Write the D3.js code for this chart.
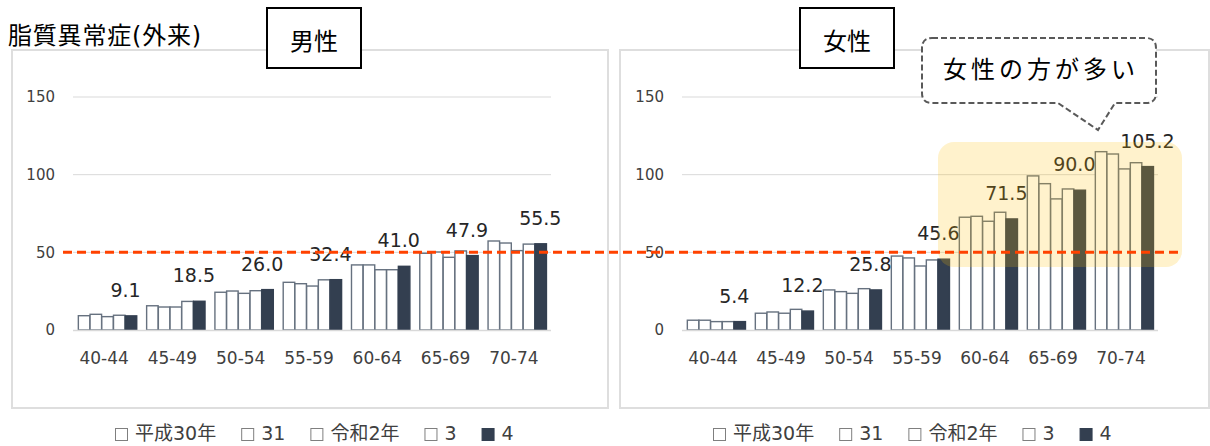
<!DOCTYPE html>
<html>
<head>
<meta charset="utf-8">
<script src="https://cdn.jsdelivr.net/npm/d3@7/dist/d3.min.js"></script>
<style>
  html, body { margin: 0; padding: 0; background: #fff; }
  svg { display: block; }
  text { font-family: "DejaVu Sans", "Noto Sans CJK JP", sans-serif; }
</style>
</head>
<body>
<svg id="chart" width="1210" height="446"></svg>
<script>
// Age bands on the x axis
const ageGroups = ["40-44", "45-49", "50-54", "55-59", "60-64", "65-69", "70-74"];
// Fiscal years (legend order)
const years = ["平成30年", "31", "令和2年", "3", "4"];
const yTicks = [0, 50, 100, 150];
const referenceValue = 50;

// Men, one array per fiscal year
const maleH30 = [9.2, 15.6, 24.3, 30.7, 41.9, 49.4, 57.3];
const maleH31 = [10.1, 14.8, 25.1, 29.8, 41.9, 50.2, 56.0];
const maleR2  = [8.6, 14.8, 23.6, 28.3, 38.8, 46.8, 51.1];
const maleR3  = [9.5, 18.4, 25.3, 32.3, 38.8, 50.9, 55.3];
const maleR4  = [9.1, 18.5, 26.0, 32.4, 41.0, 47.9, 55.5];

// Women, one array per fiscal year
const femaleH30 = [6.3, 10.8, 25.8, 47.6, 72.6, 99.2, 114.8];
const femaleH31 = [6.3, 11.6, 24.7, 46.4, 73.2, 94.2, 113.3];
const femaleR2  = [5.4, 10.8, 23.6, 41.2, 70.0, 84.4, 103.7];
const femaleR3  = [5.4, 13.3, 26.6, 45.1, 75.8, 90.8, 107.7];
const femaleR4  = [5.4, 12.2, 25.8, 45.6, 71.5, 90.0, 105.2];

const maleSeries = [maleH30, maleH31, maleR2, maleR3, maleR4];
const femaleSeries = [femaleH30, femaleH31, femaleR2, femaleR3, femaleR4];

const svg = d3.select("#chart");
const DARK = "#333f50";
const OUTLINE = "#66717f";

const y = d3.scaleLinear().domain([0, 150]).range([330, 97]);

function drawPanel(opts) {
  const { px, pw, x0, x1, series, legendX } = opts;
  const g = svg.append("g");

  // panel frame
  g.append("rect")
    .attr("x", px).attr("y", 50).attr("width", pw).attr("height", 358)
    .attr("fill", "#fff").attr("stroke", "#dedede").attr("stroke-width", 2);

  const x = d3.scaleBand().domain(ageGroups).range([x0, x1]).paddingInner(0.142).paddingOuter(0.071);
  const xs = d3.scaleBand().domain(d3.range(years.length)).range([0, x.bandwidth()]);

  // horizontal gridlines
  g.append("g").selectAll("line").data(yTicks.filter(d => d > 0)).join("line")
    .attr("x1", x0).attr("x2", x1)
    .attr("y1", d => y(d)).attr("y2", d => y(d))
    .attr("stroke", "#d9d9d9").attr("stroke-width", 1);

  // y tick labels
  g.append("g").selectAll("text").data(yTicks).join("text")
    .attr("x", x0 - 18).attr("y", d => y(d)).attr("dy", "0.36em")
    .attr("text-anchor", "end").attr("font-size", 15).attr("fill", "#404040")
    .text(d => d);

  // bars
  const groups = g.append("g").selectAll("g").data(ageGroups).join("g")
    .attr("transform", d => `translate(${x(d)},0)`);
  groups.selectAll("rect")
    .data((d, gi) => series.map((s, si) => ({ si, v: s[gi] })))
    .join("rect")
    .attr("x", d => xs(d.si) + 0.5)
    .attr("width", xs.bandwidth() - 0.2)
    .attr("y", d => y(d.v))
    .attr("height", d => y(0) - y(d.v))
    .attr("fill", d => d.si === years.length - 1 ? DARK : "#fff")
    .attr("stroke", d => d.si === years.length - 1 ? DARK : OUTLINE)
    .attr("stroke-width", 1.4);

  // baseline
  g.append("line").attr("x1", x0).attr("x2", x1).attr("y1", y(0) + 0.5).attr("y2", y(0) + 0.5)
    .attr("stroke", "#d9d9d9").attr("stroke-width", 1.5);

  // value labels for the latest year
  const latest = series[series.length - 1];
  g.append("g").selectAll("text").data(ageGroups).join("text")
    .attr("x", (d, i) => x(d) + xs(years.length - 1) + xs.bandwidth() / 2 - (i === ageGroups.length - 1 ? 0 : 5))
    .attr("y", (d, i) => y(latest[i]) - 19)
    .attr("text-anchor", "middle").attr("font-size", 19).attr("fill", "#262626")
    .text((d, i) => latest[i].toFixed(1));

  // x axis labels
  g.append("g").selectAll("text").data(ageGroups).join("text")
    .attr("x", d => x(d) + x.bandwidth() / 2 - 3).attr("y", 364)
    .attr("text-anchor", "middle").attr("font-size", 17).attr("fill", "#404040")
    .text(d => d);

  // legend
  const lg = g.append("g");
  let cx = legendX;
  years.forEach((yr, i) => {
    lg.append("rect").attr("x", cx + 0.5).attr("y", 428.5).attr("width", 12).attr("height", 12)
      .attr("fill", i === years.length - 1 ? DARK : "#fff")
      .attr("stroke", i === years.length - 1 ? DARK : "#7f7f7f").attr("stroke-width", 1);
    const t = lg.append("text").attr("x", cx + 20).attr("y", 440)
      .attr("font-size", 19).attr("fill", "#404040").text(yr);
    cx += 20 + t.node().getComputedTextLength() + 25;
  });

  return { x, xs };
}

drawPanel({ px: 12, pw: 596, x0: 73, x1: 551, series: maleSeries, legendX: 115 });
drawPanel({ px: 620, pw: 589, x0: 682, x1: 1158, series: femaleSeries, legendX: 713 });

// translucent highlight over women aged 60 and over
svg.append("rect")
  .attr("x", 938).attr("y", 142).attr("width", 244).attr("height", 125)
  .attr("rx", 16).attr("ry", 16)
  .attr("fill", "rgba(255,192,0,0.2)");

// reference line at 50 spanning both panels
svg.append("line")
  .attr("x1", 63).attr("x2", 1181)
  .attr("y1", y(referenceValue)).attr("y2", y(referenceValue))
  .attr("stroke", "#ff4200").attr("stroke-width", 3)
  .attr("stroke-dasharray", "9,5");

// chart title
svg.append("text").attr("x", 8).attr("y", 44)
  .attr("font-size", 24).attr("letter-spacing", "0.8px").attr("fill", "#000")
  .text("脂質異常症(外来)");

// sex caption boxes
function captionBox(cx, label) {
  svg.append("rect").attr("x", cx - 47).attr("y", 8).attr("width", 94).attr("height", 60)
    .attr("fill", "#fff").attr("stroke", "#000").attr("stroke-width", 2);
  svg.append("text").attr("x", cx).attr("y", 43).attr("dy", "0.3em")
    .attr("text-anchor", "middle").attr("font-size", 24)
    .attr("font-family", "'Noto Sans CJK JP', sans-serif").attr("fill", "#000")
    .text(label);
}
captionBox(314, "男性");
captionBox(847, "女性");

// speech bubble callout
const bx0 = 922, by0 = 38, bx1 = 1156, by1 = 103, r = 10;
const bubble = d3.path();
bubble.moveTo(bx0 + r, by0);
bubble.lineTo(bx1 - r, by0);
bubble.quadraticCurveTo(bx1, by0, bx1, by0 + r);
bubble.lineTo(bx1, by1 - r);
bubble.quadraticCurveTo(bx1, by1, bx1 - r, by1);
bubble.lineTo(1115, by1);
bubble.lineTo(1098, 130);
bubble.lineTo(1058, by1);
bubble.lineTo(bx0 + r, by1);
bubble.quadraticCurveTo(bx0, by1, bx0, by1 - r);
bubble.lineTo(bx0, by0 + r);
bubble.quadraticCurveTo(bx0, by0, bx0 + r, by0);
bubble.closePath();
svg.append("path").attr("d", bubble.toString())
  .attr("fill", "#fff").attr("stroke", "#595959").attr("stroke-width", 2)
  .attr("stroke-dasharray", "6,3");
svg.append("text").attr("x", 1041).attr("y", 70).attr("dy", "0.35em")
  .attr("text-anchor", "middle").attr("font-size", 24).attr("letter-spacing", "4px")
  .attr("font-family", "'Noto Sans CJK JP', sans-serif").attr("fill", "#000")
  .text("女性の方が多い");
</script>
</body>
</html>
